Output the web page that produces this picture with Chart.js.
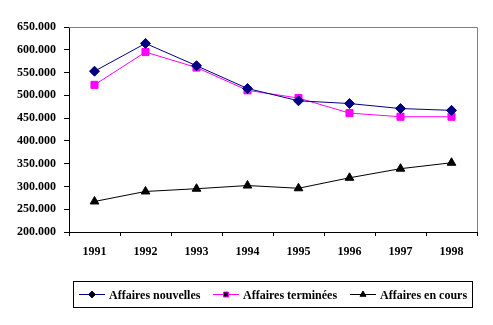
<!DOCTYPE html>
<html>
<head>
<meta charset="utf-8">
<script src="https://cdn.jsdelivr.net/npm/chart.js@4"></script>
<style>
  html, body { margin: 0; padding: 0; background: #fff; }
  #wrap { width: 493px; height: 325px; }
</style>
</head>
<body>
<div id="wrap"><canvas id="lineChart" width="493" height="325"></canvas></div>
<script>
// ── DATA ─────────────────────────────────────────────
const years = ['1991', '1992', '1993', '1994', '1995', '1996', '1997', '1998'];

const nouvelles = [553000, 614000, 565000, 515000, 488000, 482000, 471000, 467000];
const terminees = [523000, 595000, 561000, 511000, 494000, 461000, 453000, 453000];
const enCours   = [267000, 289000, 295000, 302000, 296000, 319000, 339000, 352000];

const seriesNames = ['Affaires nouvelles', 'Affaires terminées', 'Affaires en cours'];

const yMin = 200000;
const yMax = 650000;
const yStep = 50000;

const FONT = 'Liberation Serif';

// 650000 -> "650.000"
function formatThousands(v) {
  return String(v).replace(/\B(?=(\d{3})+(?!\d))/g, '.');
}

// ── PLUGIN: grey frame on top/right + boxed legend ───
const framePlugin = {
  id: 'frame',
  afterDraw(chart) {
    const ctx = chart.ctx;
    const a = chart.chartArea;
    ctx.save();

    // grey top and right border of the plot area
    ctx.strokeStyle = '#808080';
    ctx.lineWidth = 1;
    ctx.beginPath();
    ctx.moveTo(a.left, a.top + 0.5);
    ctx.lineTo(a.right + 0.5, a.top + 0.5);
    ctx.lineTo(a.right + 0.5, a.bottom);
    ctx.stroke();

    // legend box
    const box = { x: 73.5, y: 281.5, w: 399, h: 26 };
    ctx.strokeStyle = '#000';
    ctx.strokeRect(box.x, box.y, box.w, box.h);

    const cy = box.y + box.h / 2;
    ctx.font = 'bold 12px ' + FONT;
    ctx.textBaseline = 'middle';

    // where each entry starts (line sample), as in the original
    const starts = [79, 213, 350];
    chart.data.datasets.forEach(function(ds, i) {
      const x = starts[i];
      ctx.strokeStyle = ds.borderColor;
      ctx.lineWidth = 1;
      ctx.beginPath();
      ctx.moveTo(x, cy);
      ctx.lineTo(x + 26, cy);
      ctx.stroke();
      Chart.helpers.drawPoint(ctx, {
        pointStyle: ds.pointStyle,
        radius: 3.5,
        borderWidth: 1
      }, x + 13, cy);
      ctx.fillStyle = '#000';
      ctx.fillText(ds.label, x + 30, cy + 1);
    });

    ctx.restore();
  }
};

// ── LINE CHART ───────────────────────────────────────
const ctx = document.getElementById('lineChart').getContext('2d');

function series(label, values, color, style) {
  return {
    label: label,
    data: values,
    borderColor: color,
    backgroundColor: color,
    borderWidth: 1,
    pointStyle: style,
    pointRadius: 5,
    pointBorderWidth: 1,
    pointBorderColor: color,
    pointBackgroundColor: color,
    tension: 0
  };
}

new Chart(ctx, {
  type: 'line',
  data: {
    labels: years,
    datasets: [
      series(seriesNames[0], nouvelles, '#000080', 'rectRot'),
      series(seriesNames[1], terminees, '#FF00FF', 'rect'),
      series(seriesNames[2], enCours,   '#000000', 'triangle')
    ]
  },
  options: {
    responsive: false,
    animation: false,
    events: [],
    layout: { padding: { top: 27, right: 16, left: 0, bottom: 0 } },
    plugins: {
      legend: { display: false },
      tooltip: { enabled: false }
    },
    scales: {
      x: {
        offset: true,
        border: { display: true, color: '#000', width: 1 },
        grid: {
          offset: true,
          drawOnChartArea: false,
          drawTicks: true,
          tickLength: 4,
          color: '#000'
        },
        ticks: {
          color: '#000',
          padding: 9,
          maxRotation: 0,
          font: { family: FONT, size: 12, weight: 'bold' }
        },
        afterFit: function(scale) { scale.height = 93; }
      },
      y: {
        min: yMin,
        max: yMax,
        border: { display: true, color: '#000', width: 1 },
        grid: {
          drawOnChartArea: false,
          drawTicks: true,
          tickLength: 5,
          color: '#000'
        },
        ticks: {
          stepSize: yStep,
          color: '#000',
          padding: 8,
          font: { family: FONT, size: 12, weight: 'bold' },
          callback: function(value) { return formatThousands(value); }
        },
        afterFit: function(scale) { scale.width = 69; }
      }
    }
  },
  plugins: [framePlugin]
});
</script>
</body>
</html>
